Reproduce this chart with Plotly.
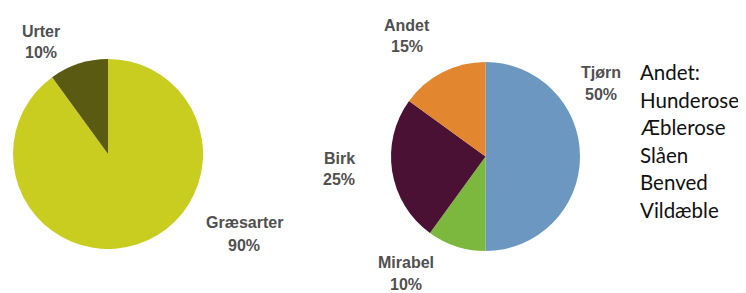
import plotly.graph_objects as go

# The page body has an 8px margin, so the figure is drawn 8px in from the
# top-left corner of the 746x293 window.
OFF = 8
W, H = 746 - OFF, 293 - OFF

# Data
left_labels = ["Græsarter", "Urter"]
left_values = [90, 10]
left_colors = ["#c9cd1f", "#5b5a12"]

right_labels = ["Tjørn", "Mirabel", "Birk", "Andet"]
right_values = [50, 10, 25, 15]
right_colors = ["#6b97c0", "#7cb83e", "#4b1134", "#e2872f"]

note_lines = ["Andet:", "Hunderose", "Æblerose", "Slåen", "Benved", "Vildæble"]


def fx(px):
    return (px - OFF) / W


def fy(py):
    return 1 - (py - OFF) / H


def dom(x0, x1, y0, y1):
    return dict(x=[fx(x0), fx(x1)], y=[fy(y1), fy(y0)])


fig = go.Figure()
fig.add_trace(go.Pie(
    labels=left_labels, values=left_values,
    marker=dict(colors=left_colors, line=dict(width=0)),
    sort=False, direction="clockwise", rotation=0,
    textinfo="none", hoverinfo="label+percent",
    domain=dom(13, 203, 59, 249), showlegend=False,
))
fig.add_trace(go.Pie(
    labels=right_labels, values=right_values,
    marker=dict(colors=right_colors, line=dict(width=0)),
    sort=False, direction="clockwise", rotation=0,
    textinfo="none", hoverinfo="label+percent",
    domain=dom(391, 580, 62, 251), showlegend=False,
))

# label placement (page-pixel centres of the name line and percent line)
label_pos = {
    "Urter": (41, 31, 52),
    "Græsarter": (244, 222, 245),
    "Tjørn": (601, 72, 94),
    "Mirabel": (406, 262, 284),
    "Birk": (339, 158, 179),
    "Andet": (407, 26, 47),
}

lab_font = dict(family="Liberation Sans, Arial, sans-serif", size=16,
                color="#505050", weight="bold")
for labs, vals in ((left_labels, left_values), (right_labels, right_values)):
    tot = sum(vals)
    for l, v in zip(labs, vals):
        px, py1, py2 = label_pos[l]
        for txt, py in ((l, py1), (f"{round(100 * v / tot)}%", py2)):
            fig.add_annotation(
                x=fx(px), y=fy(py), xref="paper", yref="paper",
                text=txt, showarrow=False, font=lab_font,
                xanchor="center", yanchor="middle", borderpad=0,
            )

note_y0, note_dy = 72, 27.6
for i, line in enumerate(note_lines):
    fig.add_annotation(
        x=fx(639), y=fy(note_y0 + i * note_dy), xref="paper", yref="paper",
        text=line, showarrow=False, align="left",
        xanchor="left", yanchor="middle", borderpad=0,
        font=dict(family="Lato, sans-serif", size=20.5, color="#111111"),
    )

fig.update_layout(
    width=W, height=H, margin=dict(l=0, r=0, t=0, b=0),
    paper_bgcolor="white", plot_bgcolor="white",
)
fig.write_html("out.html")
